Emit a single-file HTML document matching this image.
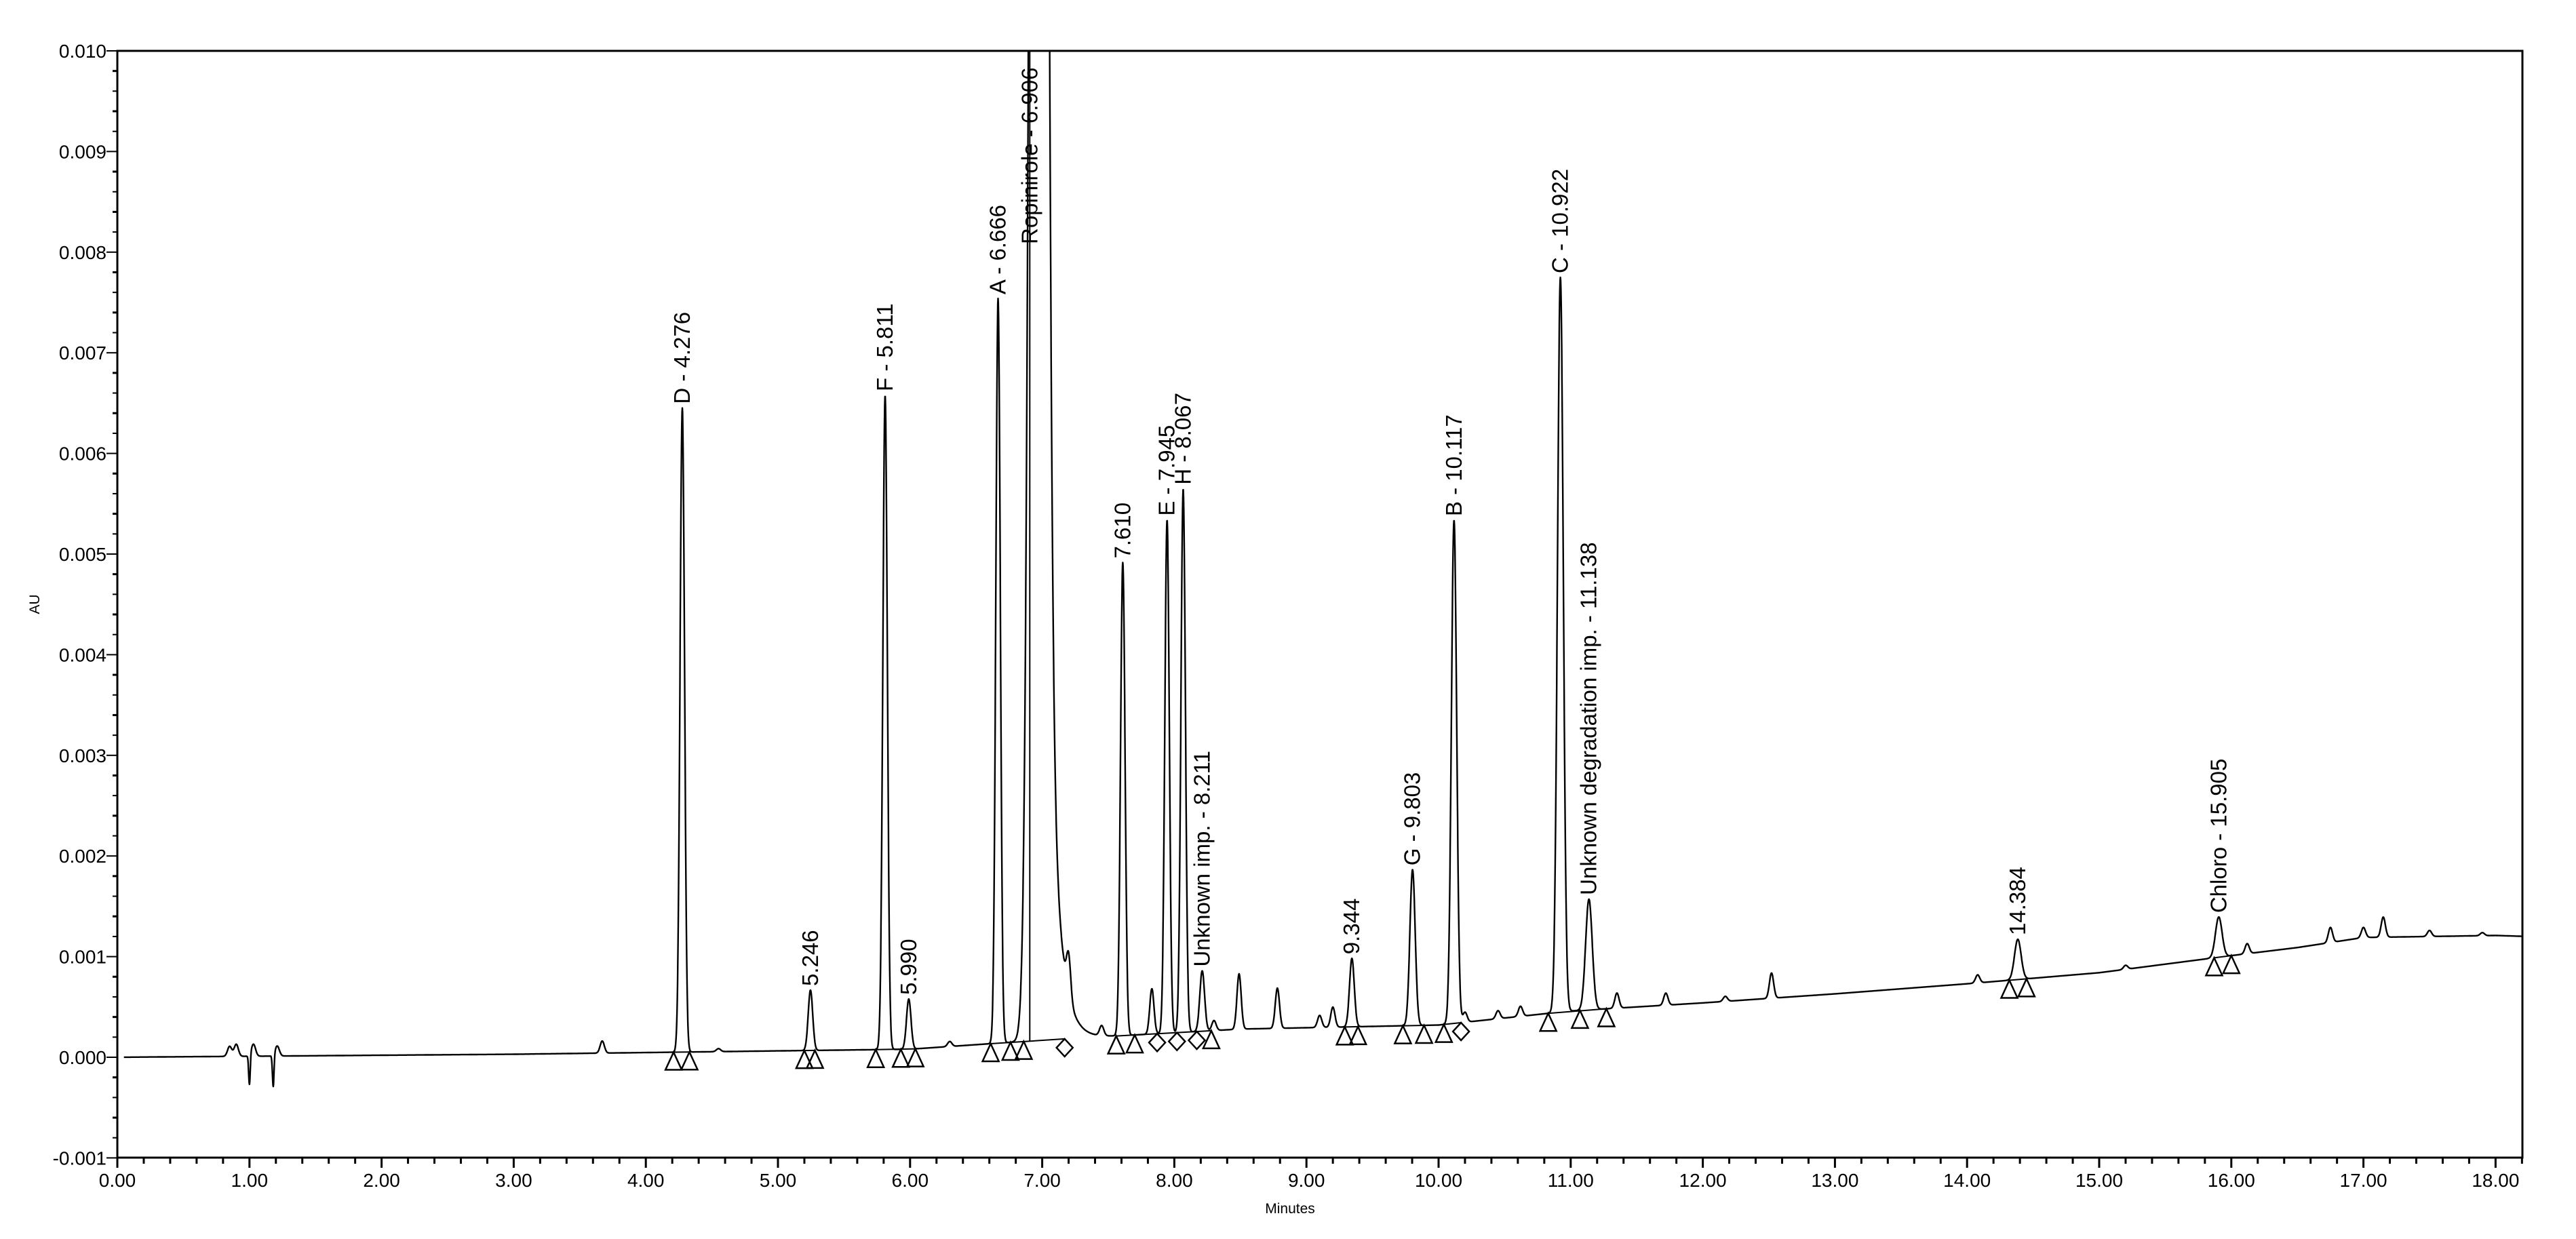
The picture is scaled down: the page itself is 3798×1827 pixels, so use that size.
<!DOCTYPE html>
<html><head><meta charset="utf-8">
<style>html,body{margin:0;padding:0;background:#fff}svg{display:block;font-family:"Liberation Sans",Arial,sans-serif}</style>
</head><body>
<svg id="chart" width="3798" height="1827" viewBox="0 0 3798 1827" xmlns="http://www.w3.org/2000/svg">
<defs><clipPath id="plotclip"><rect x="173" y="75" width="3546" height="1632"/></clipPath></defs>
<rect x="0" y="0" width="3798" height="1827" fill="#fff"/>
<g id="axes"></g>
<g id="trace" clip-path="url(#plotclip)"></g>
<g id="marks"></g>
<g id="labels"></g>
<text x="1902" y="1789" font-size="21" text-anchor="middle">Minutes</text>
<text x="0" y="0" font-size="21" text-anchor="middle" transform="translate(58,891) rotate(-90)">AU</text>
</svg>
<script>
// ---- data ----
const baseT = [0, 3, 6, 7, 8.5, 10, 11, 12, 13, 14, 15, 16, 16.5, 17, 18, 18.25];
const baseV = [0.00000, 0.00003, 0.00008, 0.00017, 0.00028, 0.00032, 0.00046, 0.00054, 0.00063, 0.00073, 0.00084, 0.00101, 0.00109, 0.00119, 0.00121, 0.00120];
const peakTimes   = [4.276, 5.246, 5.811, 5.990, 6.666, 6.970, 7.610, 7.945, 8.067, 8.211, 9.344, 9.803, 10.117, 10.922, 11.138, 14.384, 15.905];
const peakHeights = [0.0064, 0.0006, 0.0065, 0.0005, 0.0074, 0.040, 0.0047, 0.0051, 0.0054, 0.0006, 0.00068, 0.00155, 0.0050, 0.0073, 0.0011, 0.0004, 0.0004];
const peakSigmas  = [0.017, 0.017, 0.017, 0.017, 0.017, 0.045, 0.017, 0.017, 0.017, 0.018, 0.018, 0.02, 0.02, 0.022, 0.025, 0.025, 0.025];
const peakLabels  = ["D - 4.276", "5.246", "F - 5.811", "5.990", "A - 6.666", "Ropinirole - 6.906", "7.610", "E - 7.945", "H - 8.067", "Unknown imp. - 8.211", "9.344", "G - 9.803", "B - 10.117", "C - 10.922", "Unknown degradation imp. - 11.138", "14.384", "Chloro - 15.905"];
const minorTimes   = [0.85, 0.9, 1.0, 1.03, 1.18, 1.21, 3.67, 4.55, 6.3, 7.2, 7.45, 7.83, 8.3, 8.49, 8.78, 9.1, 9.2, 10.2, 10.45, 10.62, 11.35, 11.72, 12.17, 12.52, 14.08, 15.2, 16.12, 16.75, 17.0, 17.15, 17.5, 17.9];
const minorHeights = [0.0001, 0.00012, -0.0003, 0.00012, -0.00032, 0.0001, 0.00012, 0.00003, 0.00005, 0.0004, 0.0001, 0.00045, 0.0001, 0.00055, 0.0004, 0.00012, 0.0002, 0.0001, 0.00008, 0.0001, 0.00015, 0.00012, 0.00005, 0.00025, 0.00008, 0.00004, 0.0001, 0.00015, 0.0001, 0.0002, 0.00006, 0.00003];
const tailStart = 7.02, tailAmp = 0.006, tailTau = 0.07;
const triTimes = [4.21, 4.33, 5.20, 5.28, 5.74, 5.93, 6.04, 6.61, 6.76, 6.86, 7.56, 7.70, 8.28, 9.29, 9.39, 9.73, 9.89, 10.04, 10.83, 11.07, 11.27, 14.32, 14.45, 15.87, 16.00];
const diaTimes = [7.17, 7.87, 8.02, 8.17, 10.17];
const segStart = [4.21, 5.20, 5.74, 6.61, 7.56, 7.70, 9.29, 9.73, 10.04, 10.83, 14.32, 15.87];
const segEnd   = [4.33, 5.28, 6.04, 7.17, 7.70, 8.28, 9.39, 9.89, 10.17, 11.27, 14.45, 16.00];
const yTicks = [0.010, 0.009, 0.008, 0.007, 0.006, 0.005, 0.004, 0.003, 0.002, 0.001, 0.000, -0.001];
const xTicks = [0,1,2,3,4,5,6,7,8,9,10,11,12,13,14,15,16,17,18];

// ---- scales ----
const X0 = 173, PX_PER_MIN = 194.8, Y0 = 1559, PX_PER_AU = 148400;
const xs = t => X0 + t * PX_PER_MIN;
const ys = v => Y0 - v * PX_PER_AU;
const NS = "http://www.w3.org/2000/svg";
function mk(tag, attrs, parent) { const e = document.createElementNS(NS, tag); for (const k in attrs) e.setAttribute(k, attrs[k]); parent.appendChild(e); return e; }
function base(t) {
  for (let i = 0; i < baseT.length - 1; i++) if (t <= baseT[i+1]) return baseV[i] + (baseV[i+1]-baseV[i])*(t-baseT[i])/(baseT[i+1]-baseT[i]);
  return baseV[baseV.length-1];
}
function signal(t) {
  let v = base(t);
  for (let i = 0; i < peakTimes.length; i++) { const d = (t-peakTimes[i])/peakSigmas[i]; if (Math.abs(d) < 8) v += peakHeights[i]*Math.exp(-0.5*d*d); }
  for (let i = 0; i < minorTimes.length; i++) { const s = minorHeights[i] < -0.0002 ? 0.006 : 0.016; const d = (t-minorTimes[i])/s; if (Math.abs(d) < 8) v += minorHeights[i]*Math.exp(-0.5*d*d); }
  if (t > tailStart) v += tailAmp*Math.exp(-(t-tailStart)/tailTau);
  return v;
}
const axes = document.getElementById('axes');
const frame = mk('rect', {x:173, y:75, width:3546, height:1632, fill:'none', stroke:'#000', 'stroke-width':3}, axes);


for (let i = 0; i < yTicks.length; i++) {
  const y = ys(yTicks[i]);
  const tk = mk('line', {x1:157, x2:173, y1:y, y2:y, stroke:'#000', 'stroke-width':2}, axes);
  
  
  const lb = mk('text', {x:157, y:y+10, 'font-size':28, 'text-anchor':'end'}, axes);
  lb.textContent = yTicks[i].toFixed(3);
  
  
  if (i < yTicks.length - 1) for (let k = 1; k < 5; k++) {
    const ym = y + k * (ys(yTicks[i+1]) - y) / 5;
    const mt = mk('line', {x1:166, x2:173, y1:ym, y2:ym, stroke:'#000', 'stroke-width':(k%2==1?3:2)}, axes);
    
    
  }
}
for (let t = 0; t <= 18.2001; t += 0.2) {
  const major = Math.abs(t - Math.round(t)) < 1e-6;
  const x = xs(t);
  const tk = mk('line', {x1:x, x2:x, y1:1707, y2:major?1722:1716, stroke:'#000', 'stroke-width':3}, axes);
  
  
}
for (let i = 0; i < xTicks.length; i++) {
  const lb = mk('text', {x:xs(xTicks[i]), y:1750, 'font-size':28, 'text-anchor':'middle'}, axes);
  lb.textContent = xTicks[i].toFixed(2);
  
  
}
let d = '';
for (let t = 0.05; t <= 18.25; t += 0.002) { d += (d ? 'L' : 'M') + xs(t).toFixed(1) + ',' + ys(signal(t)).toFixed(1); }
const tr = mk('path', {d:d, fill:'none', stroke:'#000', 'stroke-width':2.4, 'stroke-linejoin':'round'}, document.getElementById('trace'));


const marks = document.getElementById('marks');
for (let i = 0; i < segStart.length; i++) {
  const sl = mk('line', {x1:xs(segStart[i]), y1:ys(base(segStart[i])), x2:xs(segEnd[i]), y2:ys(base(segEnd[i])), stroke:'#000', 'stroke-width':2}, marks);
  
  
}
for (let i = 0; i < triTimes.length; i++) {
  const x = xs(triTimes[i]), y = ys(base(triTimes[i]));
  const p = mk('polygon', {points:`${x},${y} ${x-12},${y+26} ${x+12},${y+26}`, fill:'none', stroke:'#000', 'stroke-width':2.5}, marks);
  
  
}
for (let i = 0; i < diaTimes.length; i++) {
  const x = xs(diaTimes[i]), y = ys(base(diaTimes[i]));
  const p = mk('polygon', {points:`${x},${y} ${x+12},${y+13} ${x},${y+26} ${x-12},${y+13}`, fill:'none', stroke:'#000', 'stroke-width':2.5}, marks);
  
  
}
const labels = document.getElementById('labels');
for (let i = 0; i < peakTimes.length; i++) {
  const isMain = peakHeights[i] > 0.02;
  const x = isMain ? xs(6.906) : xs(peakTimes[i]);
  let yb;
  if (isMain) {
    yb = 360;
    const ln = mk('line', {x1:x, x2:x, y1:75, y2:ys(base(6.86)), stroke:'#000', 'stroke-width':2}, labels);
    
    
  } else {
    yb = ys(signal(peakTimes[i])) - 6;
  }
  const tx = mk('text', {x:0, y:0, 'font-size':33, 'text-anchor':'start', transform:`translate(${x+11},${yb}) rotate(-90)`}, labels);
  tx.textContent = peakLabels[i];
  
  
}
</script>
</body></html>
